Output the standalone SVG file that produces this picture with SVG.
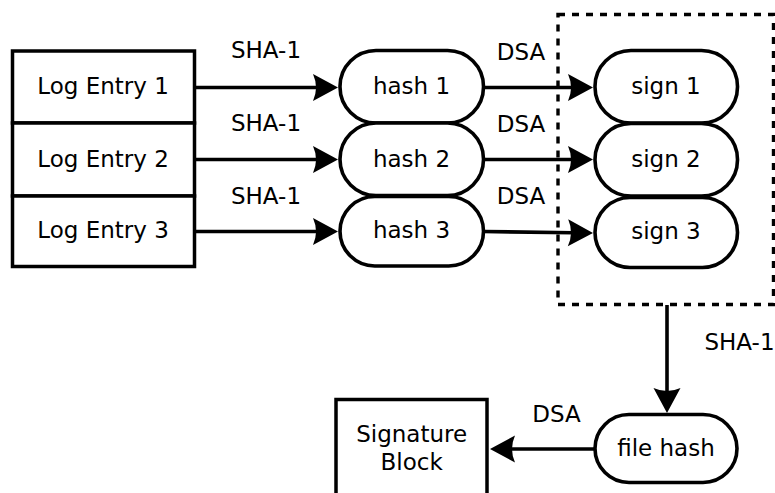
<svg xmlns="http://www.w3.org/2000/svg" width="775" height="493" viewBox="0 0 775 493">
<style>
  .box{fill:#fff;stroke:#000;stroke-width:3.5}
  .term{fill:#fff;stroke:#000;stroke-width:3.6}
  .lbl{font-family:"DejaVu Sans",sans-serif;font-size:23px;fill:#000;text-anchor:middle}
  .edge{fill:none;stroke:#000;stroke-width:3.6}
  .dash{fill:none;stroke:#000;stroke-width:3.4;stroke-dasharray:7,7}
</style>
<defs>
  <marker id="arr" markerUnits="userSpaceOnUse" orient="auto" refX="0" refY="0" markerWidth="40" markerHeight="40" viewBox="-10 -20 40 40" overflow="visible">
    <path d="M20,0 L-5,-13.5 Q1,0 -5,13.5 Z" fill="#000"/>
  </marker>
</defs>
<rect width="775" height="493" fill="#fff"/>
<g id="group-box">
  <rect class="dash" x="558" y="14.5" width="215.5" height="290"/>
</g>
<g id="log1"><rect class="box" x="12.5" y="51" width="182" height="72"/><text class="lbl" x="103" y="94.3">Log Entry 1</text></g>
<g id="log2"><rect class="box" x="12.5" y="123" width="182" height="73"/><text class="lbl" x="103" y="166.7">Log Entry 2</text></g>
<g id="log3"><rect class="box" x="12.5" y="196" width="182" height="70.5"/><text class="lbl" x="103" y="238.3">Log Entry 3</text></g>
<g id="hash1"><rect class="term" x="340" y="50.5" width="143.5" height="72.5" rx="36" ry="36"/><text class="lbl" x="411.5" y="94.3">hash 1</text></g>
<g id="hash2"><rect class="term" x="340" y="123" width="143.5" height="72.5" rx="36" ry="36"/><text class="lbl" x="411.5" y="166.7">hash 2</text></g>
<g id="hash3"><rect class="term" x="340" y="196.5" width="143.5" height="69.5" rx="34.75" ry="34.75"/><text class="lbl" x="411.5" y="238">hash 3</text></g>
<g id="sign1"><rect class="term" x="595" y="50.5" width="142.5" height="72.5" rx="36" ry="36"/><text class="lbl" x="666" y="94.3">sign 1</text></g>
<g id="sign2"><rect class="term" x="595" y="123.5" width="142.5" height="72.5" rx="36" ry="36"/><text class="lbl" x="666" y="166.7">sign 2</text></g>
<g id="sign3"><rect class="term" x="595" y="197.5" width="142.5" height="70" rx="35" ry="35"/><text class="lbl" x="666" y="239">sign 3</text></g>
<g id="filehash"><rect class="term" x="595" y="414.5" width="142" height="68" rx="34" ry="34"/><text class="lbl" x="666" y="456">file hash</text></g>
<g id="sigblock"><rect class="box" x="336" y="399.5" width="151" height="120"/><text class="lbl" x="411.7" y="441.7">Signature</text><text class="lbl" x="411.7" y="470">Block</text></g>
<g id="connectors">
  <path class="edge" d="M194.5,87.5 H318" marker-end="url(#arr)"/>
  <path class="edge" d="M194.5,159.5 H318" marker-end="url(#arr)"/>
  <path class="edge" d="M194.5,231.5 H318" marker-end="url(#arr)"/>
  <path class="edge" d="M483.5,87.5 H573" marker-end="url(#arr)"/>
  <path class="edge" d="M483.5,159.5 H573" marker-end="url(#arr)"/>
  <path class="edge" d="M483.5,231.5 L573,232.8" marker-end="url(#arr)"/>
  <path class="edge" d="M667,305 V393" marker-end="url(#arr)"/>
  <path class="edge" d="M595,449 H510" marker-end="url(#arr)"/>
  <text class="lbl" x="266" y="58">SHA-1</text>
  <text class="lbl" x="266" y="131">SHA-1</text>
  <text class="lbl" x="266" y="204">SHA-1</text>
  <text class="lbl" x="521" y="60">DSA</text>
  <text class="lbl" x="521" y="132">DSA</text>
  <text class="lbl" x="521" y="204">DSA</text>
  <text class="lbl" x="739.5" y="350">SHA-1</text>
  <text class="lbl" x="556.5" y="421.7">DSA</text>
</g>
</svg>
